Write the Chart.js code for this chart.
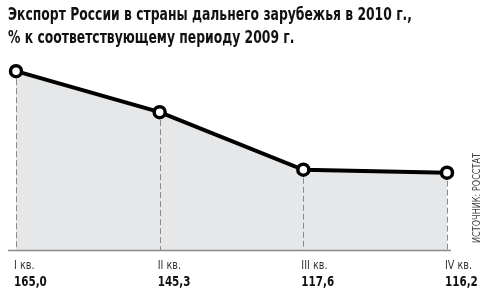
<!DOCTYPE html>
<html><head><meta charset="utf-8">
<script src="https://cdn.jsdelivr.net/npm/chart.js@4"></script>
<style>
html,body{margin:0;padding:0;background:#fff;}
#wrap{position:relative;width:500px;height:288px;}
#title{position:absolute;left:8px;top:2px;font-family:"DejaVu Sans",sans-serif;font-weight:bold;font-size:18px;line-height:23px;color:#111;white-space:nowrap;transform-origin:0 0;}
canvas{position:absolute;left:0;top:0;}
</style></head><body>
<div id="wrap">
<canvas id="c" width="500" height="288"></canvas>
<div id="title"><span id="t1">Экспорт России в страны дальнего зарубежья в 2010 г.,</span><br>% к соответствующему периоду 2009 г.</div>
</div>
<script>
const categories = ['I кв.', 'II кв.', 'III кв.', 'IV кв.'];
const values = [165.0, 145.3, 117.6, 116.2];
const valueLabels = ['165,0', '145,3', '117,6', '116,2'];
const sourceText = 'ИСТОЧНИК: РОССТАТ';

// condense title to the reference width
const t1 = document.getElementById('t1');
const sx = 404 / t1.getBoundingClientRect().width;
document.getElementById('title').style.transform = 'scaleX(' + sx + ')';

const FONT = '"DejaVu Sans",sans-serif';
const COND = 0.74;

function condText(ctx, text, x, y, f) {
  ctx.save();
  ctx.translate(x, y);
  ctx.scale(f, 1);
  ctx.fillText(text, 0, 0);
  ctx.restore();
}

const decor = {
  id: 'decor',
  afterDatasetsDraw(chart) {
    const ctx = chart.ctx, ca = chart.chartArea;
    const xs = chart.scales.x;
    const meta = chart.getDatasetMeta(0);
    ctx.save();
    // dashed drop lines
    ctx.strokeStyle = '#8a8a8a';
    ctx.lineWidth = 1;
    ctx.setLineDash([6, 3]);
    meta.data.forEach(p => {
      ctx.beginPath();
      ctx.moveTo(Math.round(p.x) + 0.5, p.y + 8);
      ctx.lineTo(Math.round(p.x) + 0.5, ca.bottom);
      ctx.stroke();
    });
    ctx.setLineDash([]);
    // baseline
    ctx.lineWidth = 1.5;
    ctx.beginPath();
    ctx.moveTo(8, ca.bottom + 0.5);
    ctx.lineTo(ca.right + 4, ca.bottom + 0.5);
    ctx.stroke();
    // labels
    ctx.textAlign = 'left';
    ctx.textBaseline = 'alphabetic';
    categories.forEach((c, i) => {
      const x = xs.getPixelForValue(i) - 2;
      ctx.fillStyle = '#333';
      ctx.font = '13px ' + FONT;
      condText(ctx, c, x, ca.bottom + 19, COND);
      ctx.fillStyle = '#111';
      ctx.font = 'bold 14px ' + FONT;
      condText(ctx, valueLabels[i], x, ca.bottom + 36, COND);
    });
    // source (rotated)
    ctx.translate(480, ca.bottom - 7);
    ctx.rotate(-Math.PI / 2);
    ctx.fillStyle = '#444';
    ctx.font = '10px ' + FONT;
    const w = ctx.measureText(sourceText).width;
    condText(ctx, sourceText, 0, 0, 90 / w);
    ctx.restore();
  }
};

new Chart(document.getElementById('c'), {
  type: 'line',
  data: {
    labels: categories,
    datasets: [{
      data: values,
      borderColor: '#000',
      borderWidth: 4,
      fill: 'start',
      backgroundColor: '#e6e7e8',
      tension: 0,
      pointRadius: 5.5,
      pointBorderWidth: 3.5,
      pointBackgroundColor: '#fff',
      pointBorderColor: '#000'
    }]
  },
  options: {
    responsive: false,
    animation: false,
    layout: { padding: { top: 40, bottom: 38, left: 16, right: 53 } },
    plugins: { legend: { display: false }, tooltip: { enabled: false }, title: { display: false } },
    scales: {
      x: { display: false, offset: false },
      y: { display: false, min: 79, max: 180 }
    }
  },
  plugins: [decor]
});
</script>
</body></html>
